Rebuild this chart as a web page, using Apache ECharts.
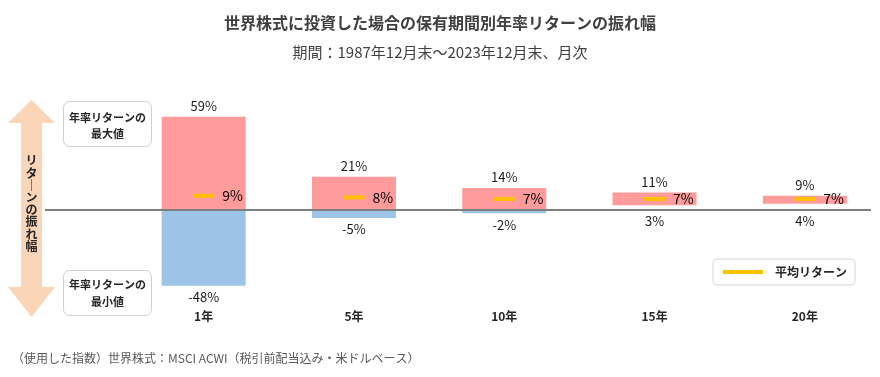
<!DOCTYPE html>
<html><head><meta charset="utf-8">
<script src="https://cdn.jsdelivr.net/npm/echarts@6/dist/echarts.min.js"></script>
<style>html,body{margin:0;padding:0;background:#fff}#c{width:880px;height:377px}</style>
</head><body><div id="c"></div>
<script>
const categories = ['1年', '5年', '10年', '15年', '20年'];
const maxReturn = [59, 21, 14, 11, 9];
const minReturn = [-48, -5, -2, 3, 4];
const avgReturn = [9, 8, 7, 7, 7];

const FONT = '"Noto Sans CJK JP", "Noto Sans", sans-serif';
const baseVals = minReturn.map(v => (v > 0 ? v : 0));
const upperVals = maxReturn.map((v, i) => v - baseVals[i]);
const lowerVals = minReturn.map(v => (v < 0 ? v : 0));

const chart = echarts.init(document.getElementById('c'), null, { renderer: 'canvas' });

function staticGraphics(y0) {
  return [
    { type: 'polygon', z: 1,
      shape: { points: [[31.5,100],[55,123],[42,123],[42,287],[55,287],[31.5,317],[8,287],[21,287],[21,123],[8,123]] },
      style: { fill: '#fbd5b8' } },
    { type: 'text', z: 2, x: 31.5, y: 203.5,
      style: { text: 'リ\nタ\n｜\nン\nの\n振\nれ\n幅', align: 'center', verticalAlign: 'middle',
        font: 'bold 12px ' + FONT, lineHeight: 12.2, fill: '#262626' } },
    { type: 'rect', z: 1, shape: { x: 63.5, y: 101.5, width: 88, height: 45, r: 6 },
      style: { fill: '#fff', stroke: '#cfcfcf', lineWidth: 1 } },
    { type: 'text', z: 2, x: 107.5, y: 126,
      style: { text: '年率リターンの\n最大値', align: 'center', verticalAlign: 'middle',
        font: 'bold 11px ' + FONT, lineHeight: 16.5, fill: '#262626' } },
    { type: 'rect', z: 1, shape: { x: 63.5, y: 270.5, width: 88, height: 45, r: 6 },
      style: { fill: '#fff', stroke: '#cfcfcf', lineWidth: 1 } },
    { type: 'text', z: 2, x: 107.5, y: 293,
      style: { text: '年率リターンの\n最小値', align: 'center', verticalAlign: 'middle',
        font: 'bold 11px ' + FONT, lineHeight: 17, fill: '#262626' } },
    { type: 'text', z: 2, x: 12, y: 358,
      style: { text: '（使用した指数）世界株式：MSCI ACWI（税引前配当込み・米ドルベース）',
        verticalAlign: 'middle', font: '12px ' + FONT, fill: '#595959' } },
    { type: 'line', z: 50, shape: { x1: 45, y1: y0, x2: 871, y2: y0 },
      style: { stroke: '#7f7f7f', lineWidth: 2 } }
  ];
}

const option = {
  backgroundColor: '#fff',
  animation: false,
  title: {
    text: '世界株式に投資した場合の保有期間別年率リターンの振れ幅',
    subtext: '期間：1987年12月末～2023年12月末、月次',
    left: 'center', top: 13, padding: 0, itemGap: 9,
    textStyle: { fontFamily: FONT, fontSize: 16, fontWeight: 'bold', color: '#404040', lineHeight: 20 },
    subtextStyle: { fontFamily: FONT, fontSize: 15, color: '#404040', lineHeight: 20 }
  },
  legend: {
    data: ['平均リターン'], left: 713, top: 259, selectedMode: false,
    padding: [7, 8, 7, 10], itemWidth: 40, itemHeight: 4, icon: 'rect',
    borderColor: '#d4d4d4', borderWidth: 1, borderRadius: 4,
    textStyle: { fontFamily: FONT, fontSize: 12, fontWeight: 'bold', color: '#262626', padding: [0, 0, 0, 7] }
  },
  grid: { left: 128.5, width: 755, top: 99.4, bottom: 72.2, containLabel: false },
  xAxis: {
    type: 'category', data: categories,
    axisLine: { show: false, onZero: false }, axisTick: { show: false },
    axisLabel: { margin: 6, fontFamily: FONT, fontSize: 12, fontWeight: 'bold', color: '#262626' }
  },
  yAxis: { type: 'value', min: -60, max: 70, show: false, splitLine: { show: false } },
  series: [
    { name: 'base', type: 'bar', stack: 'r', barWidth: 84, data: baseVals,
      itemStyle: { color: 'rgba(0,0,0,0)' }, silent: true },
    { name: '最大値', type: 'bar', stack: 'r', barWidth: 84, data: upperVals,
      itemStyle: { color: '#ff9b9b' },
      label: { show: true, position: 'top', distance: 4, fontFamily: FONT, fontSize: 13, color: '#1a1a1a',
        formatter: p => maxReturn[p.dataIndex] + '%' } },
    { name: '最小値', type: 'bar', stack: 'r', barWidth: 84, data: lowerVals,
      itemStyle: { color: '#9dc3e6' } },
    { name: 'minLabel', type: 'scatter', data: lowerVals, symbolSize: 0, silent: true,
      itemStyle: { opacity: 1 },
      label: { show: true, position: 'bottom', distance: 5, fontFamily: FONT, fontSize: 13, color: '#1a1a1a',
        formatter: p => minReturn[p.dataIndex] + '%' } },
    { name: '平均リターン', type: 'scatter', data: avgReturn, symbol: 'rect', symbolSize: [21, 4], z: 10,
      itemStyle: { color: '#ffc000', opacity: 1 },
      label: { show: true, position: 'right', distance: 8, fontFamily: FONT, fontSize: 14, color: '#000',
        formatter: p => p.value + '%' } }
  ]
};

chart.setOption(option);
const y0 = chart.convertToPixel({ yAxisIndex: 0 }, 0);
chart.setOption({ graphic: staticGraphics(y0) });
</script>
</body></html>
